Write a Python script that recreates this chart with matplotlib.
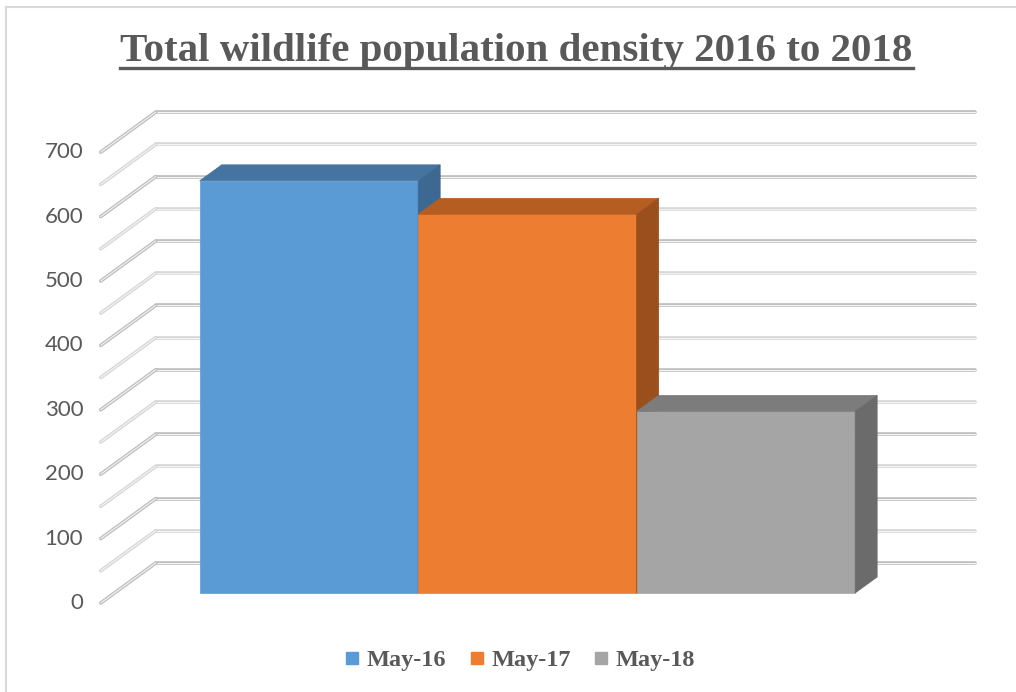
"""
Total wildlife population density 2016 to 2018 - 3D style column chart
"""
import numpy as np
import matplotlib
matplotlib.use('Agg')
import matplotlib.pyplot as plt
from matplotlib.patches import Polygon
from matplotlib.lines import Line2D

# Data
categories = ['May-16', 'May-17', 'May-18']
values = [640, 588, 282]
y_ticks = [0, 100, 200, 300, 400, 500, 600, 700]
grid_step = 50

front_colors = ['#5B9BD5', '#ED7D31', '#A5A5A5']
top_colors = ['#4574A0', '#B65E22', '#7C7C7C']
side_colors = ['#3C6891', '#9A4F1C', '#6B6B6B']
text_color = '#595959'

# oblique projection of the depth axis (in data units)
DX = 0.2517     # x shift for the full depth
DY = 62.1       # y shift for the full depth
d0, d1 = 0.25, 0.65   # depth range of the bars
XL, XR = -0.89, 2.86  # left / right edges of the floor

fig = plt.figure(figsize=(10.16, 6.92), dpi=100)
ax = fig.add_axes([0, 0, 1, 1])
ax.set_xlim(-1.351, 3.299)
ax.set_ylim(-138.2, 936.3)
ax.axis('off')

# walls: back gridlines and left wall diagonals
for g in np.arange(0, max(y_ticks) + 1, grid_step):
    major = g in y_ticks
    base = '#bdbdbd' if major else '#d6d6d6'
    xs_back = [XL + DX, XR + DX]
    ys_back = [g + DY, g + DY]
    xs_diag = [XL, XL + DX]
    ys_diag = [g, g + DY]
    for xs, ys in [(xs_back, ys_back), (xs_diag, ys_diag)]:
        ax.plot(xs, ys, color=base, lw=2.6, solid_capstyle='round', zorder=1)
        ax.plot(xs, ys, color='#f4f4f4', lw=0.8, solid_capstyle='round', zorder=1)

# y tick labels on the front edge of the left wall
for t in y_ticks:
    ax.text(XL - 0.08, t, str(t), ha='right', va='center', fontsize=16,
            family=['Lato', 'DejaVu Sans'], color=text_color)

# bars: front face, top face, right side face
dd = d1 - d0
for i, v in enumerate(values):
    xl = i - 0.5 + d0 * DX
    xr = xl + 1.0
    b0 = d0 * DY
    ax.bar(xl + 0.5, v, width=1.0, bottom=b0, color=front_colors[i],
           edgecolor=front_colors[i], lw=0.5, zorder=3 + i, label=categories[i])
    top = Polygon([(xl, v + b0), (xr, v + b0),
                   (xr + dd * DX, v + b0 + dd * DY), (xl + dd * DX, v + b0 + dd * DY)],
                  closed=True, facecolor=top_colors[i], edgecolor=top_colors[i],
                  lw=0.5, zorder=3 + i)
    side = Polygon([(xr, b0), (xr, v + b0),
                    (xr + dd * DX, v + b0 + dd * DY), (xr + dd * DX, b0 + dd * DY)],
                   closed=True, facecolor=side_colors[i], edgecolor=side_colors[i],
                   lw=0.5, zorder=3 + i)
    ax.add_patch(top)
    ax.add_patch(side)

# title, underlined
title = fig.text(0.5084, 1 - 52 / 692, 'Total wildlife population density 2016 to 2018',
                 ha='center', va='center', fontsize=29.5, fontweight='bold',
                 family='Liberation Serif', color=text_color)
fig.canvas.draw()
bb = title.get_window_extent()
y_ul = 692 - 68
fig.add_artist(Line2D([bb.x0 / 1016, bb.x1 / 1016], [y_ul / 692, y_ul / 692],
                      color=text_color, lw=2.4))

# legend
handles = [Line2D([], [], marker='s', ls='none', markersize=9,
                  markerfacecolor=c, markeredgecolor=c) for c in front_colors]
leg = fig.legend(handles, categories, loc='center', bbox_to_anchor=(0.512, 1 - 660 / 692),
                 ncol=3, frameon=False, handlelength=0.6, handletextpad=0.3,
                 columnspacing=0.95,
                 prop={'family': 'Liberation Serif', 'weight': 'bold', 'size': 17.5})
for t in leg.get_texts():
    t.set_color(text_color)

# chart border (top and left visible)
fig.add_artist(Line2D([6 / 1016, 6 / 1016], [0, 1 - 7 / 692], color='#d9d9d9', lw=1.5))
fig.add_artist(Line2D([6 / 1016, 1], [1 - 7 / 692, 1 - 7 / 692], color='#d9d9d9', lw=1.5))

fig.savefig('out.png', dpi=100)
